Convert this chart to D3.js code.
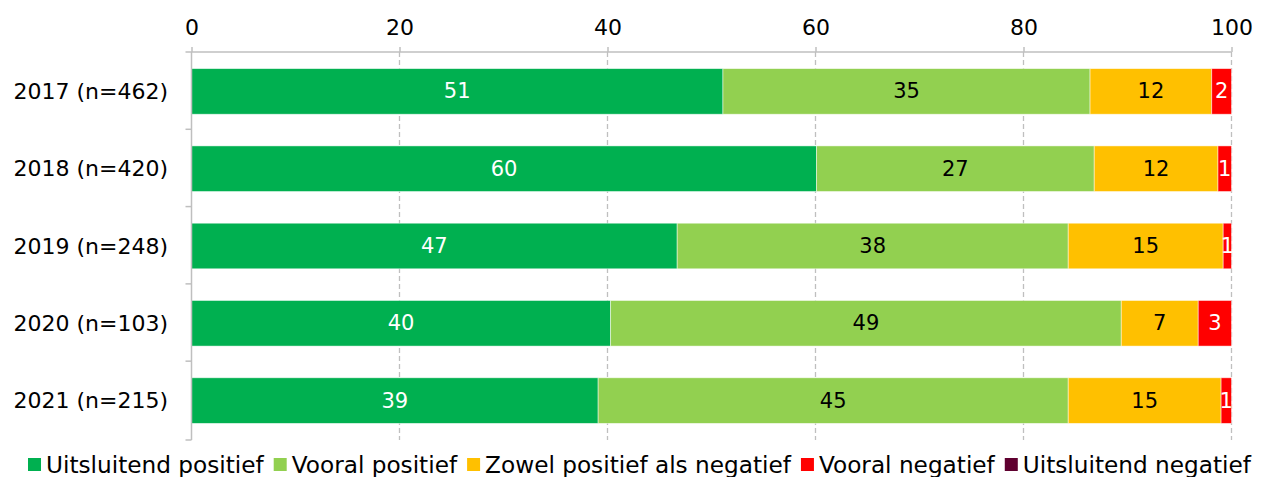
<!DOCTYPE html>
<html><head><meta charset="utf-8">
<script src="https://cdn.jsdelivr.net/npm/d3@7"></script>
<style>body{margin:0;background:#fff}svg{display:block}text{font-family:"DejaVu Sans",sans-serif}</style>
</head><body><svg id="c" width="1264" height="477"></svg>
<script>
const categories = ["2017 (n=462)","2018 (n=420)","2019 (n=248)","2020 (n=103)","2021 (n=215)"];
const seriesNames = ["Uitsluitend positief","Vooral positief","Zowel positief als negatief","Vooral negatief","Uitsluitend negatief"];
const uitsluitendPositief = [51.1, 60.1, 46.7, 40.3, 39.1];
const vooralPositief = [35.3, 26.7, 37.6, 49.1, 45.2];
const zowel = [11.7, 11.9, 14.9, 7.4, 14.7];
const vooralNegatief = [1.9, 1.3, 0.8, 3.2, 1.0];
const uitsluitendNegatief = [0, 0, 0, 0, 0];
const labels = [[51,35,12,2,null],[60,27,12,1,null],[47,38,15,1,null],[40,49,7,3,null],[39,45,15,1,null]];
const xTicks = [0,20,40,60,80,100];
const colors = ["#00B050","#92D050","#FFC000","#FF0000","#5F0030"];
const labelColors = ["#fff","#000","#000","#fff","#fff"];

const series = [uitsluitendPositief, vooralPositief, zowel, vooralNegatief, uitsluitendNegatief];
const svg = d3.select("#c");
const L = 191.5, R = 1231.5, T = 52, B = 440;
const x = d3.scaleLinear().domain([0,100]).range([L,R]);
const y = d3.scaleBand().domain(categories).range([T,B]).paddingInner(0.41).paddingOuter(0.215);
const grey = "#BFBFBF";

// gridlines
svg.append("g").selectAll("line").data(xTicks.slice(1)).join("line")
  .attr("x1",d=>x(d)).attr("x2",d=>x(d)).attr("y1",T).attr("y2",B)
  .attr("stroke",grey).attr("stroke-width",1.3).attr("stroke-dasharray","5,3");

// bars
const rows = categories.map((c,i)=>{
  let acc=0;
  return series.map((s,j)=>{const v=s[i]; const o={c,j,x0:acc,x1:acc+v,label:labels[i][j]}; acc+=v; return o;});
});
const g = svg.append("g");
rows.forEach(r=>{
  g.selectAll(null).data(r.filter(d=>d.x1>d.x0)).join("rect")
    .attr("x",d=>x(d.x0)).attr("width",d=>x(d.x1)-x(d.x0))
    .attr("y",d=>y(d.c)).attr("height",y.bandwidth())
    .attr("fill",d=>colors[d.j]).attr("stroke","#fff").attr("stroke-opacity",0.6).attr("stroke-width",0.8);
  g.selectAll(null).data(r.filter(d=>d.label!=null && d.x1>d.x0)).join("text")
    .attr("x",d=>x((d.x0+d.x1)/2)).attr("y",d=>y(d.c)+y.bandwidth()/2)
    .attr("text-anchor","middle").attr("dominant-baseline","central")
    .attr("font-size",21).attr("fill",d=>labelColors[d.j]).text(d=>d.label);
});

// top axis
const xa = svg.append("g").attr("transform",`translate(0,${T})`)
  .call(d3.axisTop(x).tickValues(xTicks).tickSize(5).tickPadding(12));
xa.select(".domain").attr("stroke",grey).attr("stroke-width",1.5).attr("d",`M${L-6},0H${R}`);
xa.selectAll(".tick line").attr("stroke",grey).attr("stroke-width",1.5);
xa.selectAll(".tick text").attr("font-size",22).attr("fill","#000").attr("font-family","DejaVu Sans");

// left axis
svg.append("line").attr("x1",L).attr("x2",L).attr("y1",T).attr("y2",B).attr("stroke",grey).attr("stroke-width",1.5);
const bounds = categories.map((c,i)=>T + i*y.step()).concat([B]);
svg.append("g").selectAll("line").data(bounds.slice(1)).join("line")
  .attr("x1",L-6).attr("x2",L).attr("y1",d=>d).attr("y2",d=>d).attr("stroke",grey).attr("stroke-width",1.5);
svg.append("g").selectAll("text").data(categories).join("text")
  .attr("x",168).attr("y",d=>y(d)+y.bandwidth()/2).attr("text-anchor","end").attr("dominant-baseline","central")
  .attr("font-size",22).attr("fill","#000").text(d=>d);

// legend
const lg = svg.append("g");
let cx = 28;
const ly = 464;
seriesNames.forEach((n,i)=>{
  lg.append("rect").attr("x",cx).attr("y",ly-6).attr("width",13).attr("height",13).attr("fill",colors[i]);
  const t = lg.append("text").attr("x",cx+18).attr("y",ly).attr("dominant-baseline","central")
    .attr("font-size",23.2).attr("fill","#000").text(n);
  cx += 18 + t.node().getComputedTextLength() + 10;
});
</script></body></html>
